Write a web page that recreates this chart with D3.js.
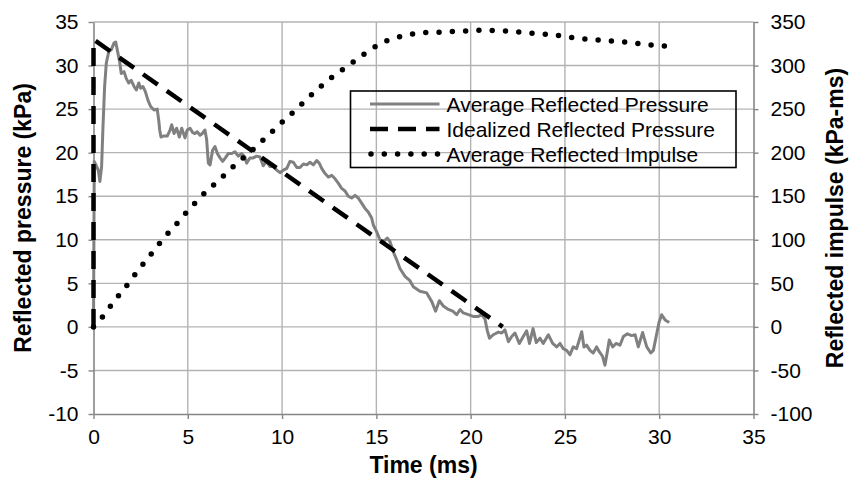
<!DOCTYPE html>
<html>
<head>
<meta charset="utf-8">
<script src="https://cdn.jsdelivr.net/npm/d3@7"></script>
<style>
  body { margin: 0; background: #fff; }
  svg text { font-family: "Liberation Sans", Arial, sans-serif; fill: #000; }
</style>
</head>
<body>
<svg id="chart" width="849" height="487"></svg>
<script>
// data
const timeTicks = [0, 5, 10, 15, 20, 25, 30, 35];
const pressureTicks = [-10, -5, 0, 5, 10, 15, 20, 25, 30, 35];
const impulseTicks = [-100, -50, 0, 50, 100, 150, 200, 250, 300, 350];

const seriesNames = ["Average Reflected Pressure", "Idealized Reflected Pressure", "Average Reflected Impulse"];

// Average Reflected Pressure (ms, kPa)
const pressureTime = [0,0.04,0.13,0.25,0.34,0.43,0.5,0.59,0.68,0.81,
  0.94,1.09,1.18,1.26,1.39,1.47,1.62,1.74,1.87,2.0,
  2.15,2.27,2.4,2.5,2.62,2.75,2.89,3.03,3.21,3.38,
  3.46,3.51,3.58,3.7,3.91,4.06,4.15,4.27,4.41,4.55,
  4.68,4.85,4.97,5.12,5.26,5.38,5.5,5.65,5.77,5.91,
  6.0,6.09,6.18,6.32,6.44,6.57,6.71,6.85,6.99,7.15,
  7.33,7.5,7.68,7.86,8.03,8.12,8.3,8.47,8.65,8.83,
  9.0,9.18,9.36,9.53,9.72,9.89,10.07,10.25,10.42,10.6,
  10.78,10.95,11.13,11.31,11.48,11.66,11.84,11.97,12.1,12.28,
  12.45,12.63,12.81,12.98,13.16,13.34,13.51,13.69,13.87,14.04,
  14.22,14.4,14.57,14.75,14.84,15.02,15.19,15.37,15.58,15.72,
  15.9,16.08,16.25,16.52,16.78,16.96,17.31,17.67,17.94,18.14,
  18.34,18.55,18.82,19.05,19.26,19.44,19.61,19.88,20.14,20.41,
  20.59,20.76,20.88,21.0,21.2,21.47,21.65,21.82,22.0,22.18,
  22.35,22.58,22.79,22.97,23.12,23.31,23.48,23.68,23.85,24.12,
  24.35,24.56,24.74,24.91,25.09,25.27,25.44,25.62,25.76,25.89,
  26.01,26.15,26.33,26.5,26.68,26.82,27.0,27.12,27.25,27.35,
  27.53,27.71,27.92,28.1,28.31,28.54,28.72,28.89,29.12,29.34,
  29.55,29.69,29.87,30.0,30.13,30.31,30.53];
const pressureValue = [0,19,18.6,18,16.7,18.4,22.8,27.6,30.3,31.6,
  31.8,32.6,32.7,31.8,30.4,29.1,29.3,28.5,28,28.3,
  27.6,27.2,28,27.4,27.6,27,26,25.3,24.9,25,
  23.7,22.6,21.8,21.9,21.9,22.6,23.2,22.2,22.8,21.8,
  22.8,21.7,22.6,22.8,22.3,22.2,22.4,22,22.2,22.6,
  21.5,18.8,18.6,20.3,20.7,19.9,19.4,19,19.4,19.9,
  19.9,20.1,19.6,19.9,19.5,18.8,19.4,19.4,19.6,19.5,
  18.5,19,18.4,18.4,18,17.7,18,18.2,19,18.9,
  18.3,18.3,18.7,18.6,18.9,18.6,19.1,18.8,18.2,17.6,
  17.2,17.4,17,16.5,15.9,15.6,15,14.8,15.1,14.8,
  14.2,13.6,13.2,12.5,11.7,10.9,10,9.8,10.2,9.8,
  8.6,7.7,6.7,5.8,5.3,4.6,4.1,3.9,2.9,1.8,
  3.0,2.4,2.0,1.8,1.4,2.0,1.6,1.4,1.2,1.2,
  1.4,0.9,-0.4,-1.3,-0.9,-0.6,-0.7,-0.35,-1.7,-1.1,
  -0.7,-1.9,-1.1,-0.45,-1.9,-0.2,-1.8,-1.3,-1.9,-0.9,
  -1.9,-2.3,-1.9,-2.5,-2.7,-3.2,-2.3,-2.5,-1.5,-0.55,
  -2.3,-2.1,-2.7,-3.0,-2.3,-2.85,-3.4,-4.4,-2.85,-1.5,
  -2.3,-1.9,-2.1,-1.1,-0.8,-1.0,-0.9,-2.3,-0.65,-2.3,
  -3.0,-2.7,-0.75,0.6,1.4,0.8,0.5];

// Idealized Reflected Pressure (ms, kPa)
const idealTime = [0, 0, 21.7];
const idealValue = [0, 33, 0];

// Average Reflected Impulse (ms, kPa-ms)
const impulseTime = [0,0.49,0.91,1.33,1.76,2.17,2.59,3.03,3.46,3.9,
  4.37,4.82,5.29,5.75,6.27,6.78,7.29,7.8,8.33,8.83,
  9.34,9.84,10.37,10.88,11.38,11.89,12.4,12.97,13.53,14.08,
  14.64,15.21,15.88,16.56,17.22,17.93,18.62,19.31,20,20.69,
  21.38,22.09,22.76,23.43,24.14,24.83,25.52,26.21,26.9,27.59,
  28.28,28.97,29.65,30.35,30.6];
const impulseValue = [0,11.7,24,35.8,47.3,59.2,71,82.9,94.8,106.3,
  117.3,128.8,139.9,150.6,161,171,181.6,191.3,201.1,211.1,
  221.4,231.8,242.1,252.4,262.8,272.8,282.6,291.5,300.3,309,
  317.5,325.1,330.8,334.7,337,338.2,338.5,339.3,340,340.5,
  340,339.3,338.2,336.8,335.6,334,331.7,330.2,329,327.9,
  326.7,325.1,323.3,322.5,322.2];

const plotLeft = 93.5, plotRight = 753.5, plotTop = 22, plotBottom = 414;
const gridColor = "#b3b3b3", axisColor = "#868686";
const fontSize = 21, titleSize = 23;

const svg = d3.select("#chart");

const x = d3.scaleLinear().domain([0, 35]).range([plotLeft, plotRight]);
const y = d3.scaleLinear().domain([-10, 35]).range([plotBottom, plotTop]);
const y2 = d3.scaleLinear().domain([-100, 350]).range([plotBottom, plotTop]);

// plain hyphen for negatives, like the original
const plain = d => String(d);

// grid
svg.append("g").selectAll("line")
  .data(pressureTicks.filter(d => d > -10))
  .enter().append("line")
  .attr("x1", plotLeft).attr("x2", plotRight)
  .attr("y1", d => y(d)).attr("y2", d => y(d))
  .attr("stroke", gridColor).attr("stroke-width", 1.4);

svg.append("g").selectAll("line")
  .data(timeTicks.filter(d => d > 0 && d < 35))
  .enter().append("line")
  .attr("x1", d => x(d)).attr("x2", d => x(d))
  .attr("y1", plotTop).attr("y2", plotBottom)
  .attr("stroke", gridColor).attr("stroke-width", 1.4);

// axes
function styleAxis(g) {
  g.select(".domain").attr("stroke", axisColor).attr("stroke-width", 1.6);
  g.selectAll(".tick line").attr("stroke", axisColor).attr("stroke-width", 1.4);
  g.selectAll(".tick text").attr("font-size", fontSize).attr("font-family", "Liberation Sans, Arial, sans-serif");
}

svg.append("g")
  .attr("transform", "translate(0," + plotBottom + ")")
  .call(d3.axisBottom(x).tickValues(timeTicks).tickFormat(plain).tickSize(5).tickSizeOuter(0).tickPadding(10))
  .call(styleAxis);

svg.append("g")
  .attr("transform", "translate(" + plotLeft + ",0)")
  .call(d3.axisLeft(y).tickValues(pressureTicks).tickFormat(plain).tickSize(5).tickSizeOuter(0).tickPadding(10))
  .call(styleAxis);

svg.append("g")
  .attr("transform", "translate(" + plotRight + ",0)")
  .call(d3.axisRight(y2).tickValues(impulseTicks).tickFormat(plain).tickSize(5).tickSizeOuter(0).tickPadding(12))
  .call(styleAxis);

// series
const pressureLine = d3.line().x(d => x(d[0])).y(d => y(d[1]));
const impulseLine = d3.line().x(d => x(d[0])).y(d => y2(d[1])).curve(d3.curveMonotoneX);

svg.append("path")
  .datum(d3.zip(pressureTime, pressureValue))
  .attr("fill", "none")
  .attr("stroke", "#808080")
  .attr("stroke-width", 3)
  .attr("stroke-linejoin", "round")
  .attr("d", pressureLine);

svg.append("path")
  .datum(d3.zip(idealTime, idealValue))
  .attr("fill", "none")
  .attr("stroke", "#000")
  .attr("stroke-width", 4.5)
  .attr("stroke-dasharray", "18 11")
  .attr("d", pressureLine);

svg.append("path")
  .datum(d3.zip(impulseTime, impulseValue))
  .attr("fill", "none")
  .attr("stroke", "#000")
  .attr("stroke-width", 5.5)
  .attr("stroke-linecap", "round")
  .attr("stroke-dasharray", "0 13.3")
  .attr("d", impulseLine);

// legend
const legend = svg.append("g").attr("transform", "translate(350.5,91)");
legend.append("rect")
  .attr("width", 385.5).attr("height", 76.5)
  .attr("fill", "none").attr("stroke", "#000").attr("stroke-width", 1.6);

const legendStyles = [
  {stroke: "#808080", width: 3, dash: null, cap: "butt"},
  {stroke: "#000", width: 4.5, dash: "18 10", cap: "butt"},
  {stroke: "#000", width: 5.5, dash: "0 13.3", cap: "round"}
];

seriesNames.forEach(function(name, i) {
  const row = legend.append("g").attr("transform", "translate(0," + (13 + i * 25) + ")");
  const s = legendStyles[i];
  row.append("line")
    .attr("x1", i == 2 ? 20.5 : 19.5).attr("x2", 89)
    .attr("stroke", s.stroke).attr("stroke-width", s.width)
    .attr("stroke-linecap", s.cap)
    .attr("stroke-dasharray", s.dash);
  row.append("text")
    .attr("x", 96).attr("y", 7.5)
    .attr("font-size", fontSize)
    .text(name);
});

// titles
svg.append("text")
  .attr("x", (plotLeft + plotRight) / 2).attr("y", 473)
  .attr("text-anchor", "middle")
  .attr("font-size", titleSize).attr("font-weight", "bold")
  .text("Time (ms)");

svg.append("text")
  .attr("transform", "translate(31," + (plotTop + plotBottom) / 2 + ") rotate(-90)")
  .attr("text-anchor", "middle")
  .attr("font-size", titleSize).attr("font-weight", "bold")
  .text("Reflected pressure (kPa)");

svg.append("text")
  .attr("transform", "translate(843," + (plotTop + plotBottom) / 2 + ") rotate(-90)")
  .attr("text-anchor", "middle")
  .attr("font-size", titleSize).attr("font-weight", "bold")
  .text("Reflected impulse (kPa-ms)");
</script>
</body>
</html>
